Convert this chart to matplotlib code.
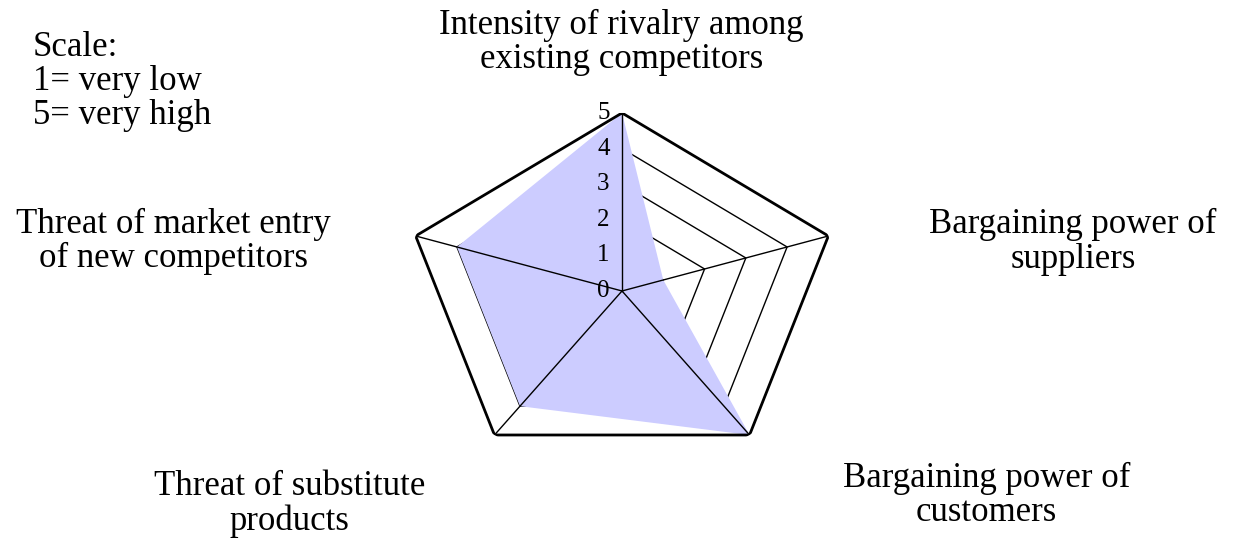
import numpy as np
import matplotlib
matplotlib.use('Agg')
from matplotlib import pyplot as plt
from matplotlib import transforms as mtrans

plt.rcParams['font.family'] = ['Liberation Serif', 'DejaVu Serif']

# data, clockwise from the top
categories = ['Intensity of rivalry among\nexisting competitors',
              'Bargaining power of\nsuppliers',
              'Bargaining power of\ncustomers',
              'Threat of substitute\nproducts',
              'Threat of market entry\nof new competitors']
scores = [5, 1, 5, 4, 4]
scale_ticks = [0, 1, 2, 3, 4, 5]
scale_note = 'Scale:\n1= very low\n5= very high'

# label positions (figure fraction)
label_pos = [(0.503, 0.921), (0.868, 0.552), (0.798, 0.083), (0.234, 0.067), (0.140, 0.553)]

fig = plt.figure(figsize=(12.36, 5.4), dpi=100)
# pentagon is wider than it is tall, so let the polar axes stretch
ax = fig.add_axes([0.3277, 0.1315, 0.3511, 0.6593], projection='polar')
ax.set_aspect('auto')
ax.set_theta_zero_location('N')
ax.set_theta_direction(-1)
ax.set_ylim(0, scale_ticks[-1])
ax.grid(False)
ax.set_xticks([])
ax.set_yticks([])
ax.spines['polar'].set_visible(False)
ax.patch.set_visible(False)

n = len(scores)
ang = np.linspace(0, 2 * np.pi, n, endpoint=False)
ang_c = np.append(ang, ang[0])

# rings (under the fill)
for r in scale_ticks[1:-1]:
    ax.plot(ang_c, [r] * (n + 1), color='black', lw=1.0, zorder=1)

vals = np.append(scores, scores[0])
ax.fill(ang_c, vals, color='#ccccff', lw=0, zorder=2)

# spokes and outer ring on top
for a in ang:
    ax.plot([a, a], [0, scale_ticks[-1]], color='black', lw=1.0, zorder=3)
ax.plot(ang_c, [scale_ticks[-1]] * (n + 1), color='black', lw=2.0, zorder=4)

# radial tick labels left of the top spoke
off = mtrans.offset_copy(ax.transData, fig=fig, x=-9, y=0, units='points')
for r in scale_ticks:
    ax.text(0, r, str(r), transform=off, ha='right', va='center', fontsize=18, zorder=5)

for lab, (x, y) in zip(categories, label_pos):
    fig.text(x, y, lab, ha='center', va='center', multialignment='center',
             fontsize=25, linespacing=1.05)

fig.text(0.0267, 0.943, scale_note, ha='left', va='top', fontsize=25, linespacing=1.05)

fig.savefig('out.png', dpi=100)
